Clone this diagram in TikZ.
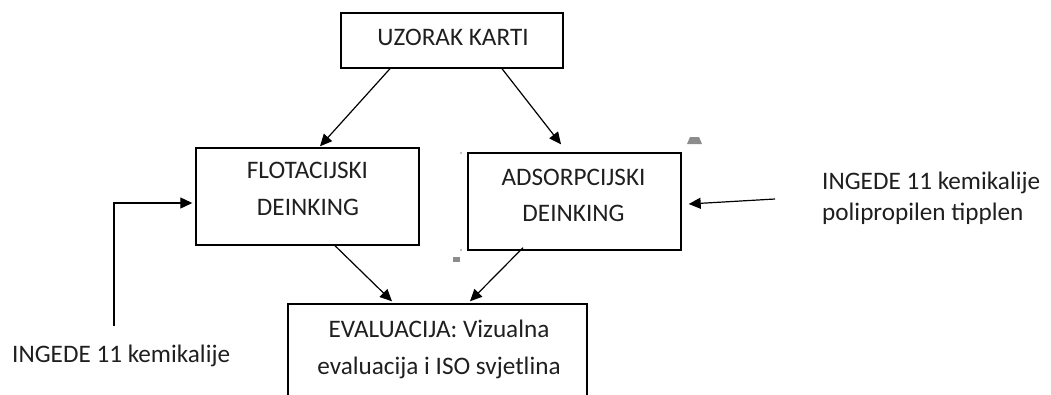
\documentclass[tikz,border=0pt]{standalone}
\usepackage{fontspec}
\setmainfont{Carlito}
\usetikzlibrary{arrows.meta}
\begin{document}
\begin{tikzpicture}[x=1pt,y=-1pt,
  boxnode/.style={draw=black,line width=1.4pt,minimum width=#1,inner sep=0pt,rectangle},
  lbl/.style={inner sep=0pt,font=\fontsize{25.2}{30}\selectfont,text=black!88},
  conn/.style={line width=1.2pt,-{Triangle[length=12pt,width=11pt]}},
  speck/.style={fill=black!45,draw=none}]
\useasboundingbox (0,0) rectangle (1051,394);
\clip (0,0) rectangle (1051,394);
% boxes
\node[boxnode=222pt,minimum height=55pt] (uz) at (452,40.5) {};
\node[boxnode=223pt,minimum height=97pt] (flot) at (307.5,196.5) {};
\node[boxnode=213pt,minimum height=97pt] (ads) at (574.5,201.5) {};
\node[boxnode=299pt,minimum height=110pt] (ev) at (437.5,359) {};
% box texts
\node[lbl,anchor=base] (uzt) at (453,45) {UZORAK KARTI};
\node[lbl,anchor=base] (flt1) at (307.5,178) {FLOTACIJSKI};
\node[lbl,anchor=base] (flt2) at (308,215) {DEINKING};
\node[lbl,anchor=base] (adt1) at (573.5,185) {ADSORPCIJSKI};
\node[lbl,anchor=base] (adt2) at (573.5,221) {DEINKING};
\node[lbl,anchor=base] (evt1) at (439,337) {EVALUACIJA: Vizualna};
\node[lbl,anchor=base] (evt2) at (439,374) {evaluacija i ISO svjetlina};
% side texts
\node[lbl,anchor=base west] (lt) at (12,362) {INGEDE 11 kemikalije};
\node[lbl,anchor=base west] (rt1) at (822,189) {INGEDE 11 kemikalije};
\node[lbl,anchor=base west] (rt2) at (822,220) {polipropilen tipplen};
% connectors
\draw[conn] ([xshift=-62pt]uz.south) -- ([xshift=12.5pt,yshift=1pt]flot.north);
\draw[conn] ([xshift=50pt]uz.south) -- ([xshift=-13.5pt,yshift=8pt]ads.north);
\draw[conn] ([xshift=27.5pt]flot.south) -- ([xshift=-45.5pt,yshift=2pt]ev.north);
\draw[conn] ([xshift=-51.5pt,yshift=3pt]ads.south) -- ([xshift=32.5pt,yshift=2pt]ev.north);
\coordinate (lstart) at (114,326);
\coordinate (lend) at ([yshift=-6.5pt,xshift=-3pt]flot.west);
\draw[conn] (lstart) |- (lend);
\coordinate (rstart) at (775,199);
\coordinate (rend) at ([yshift=-2.5pt,xshift=7pt]ads.east);
\draw[conn] (rstart) -- (rend);
% stray marks
\fill[speck] (687,144) -- (690,137) -- (699,137) -- (702,144) -- cycle;
\fill[speck] (453,257) rectangle (460,262);
\fill[black!50] (461,153) circle (0.8pt);
\fill[black!50] (461,250) circle (0.8pt);
\end{tikzpicture}
\end{document}
